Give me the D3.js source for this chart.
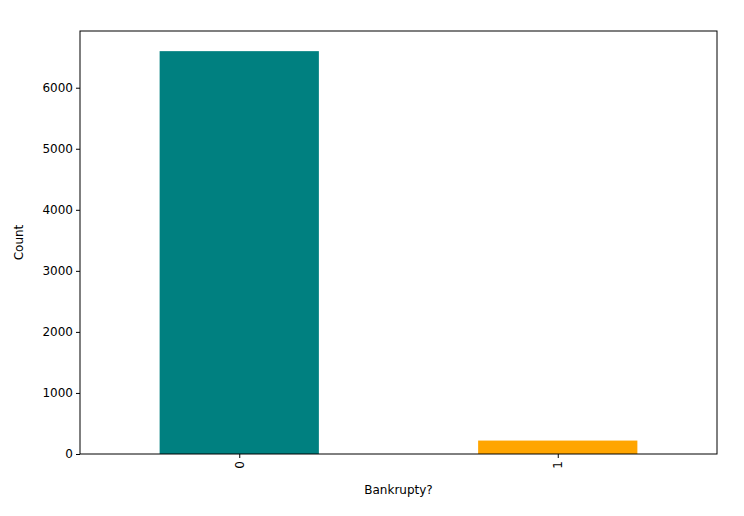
<!DOCTYPE html>
<html><head><meta charset="utf-8">
<script src="https://cdn.jsdelivr.net/npm/d3@7"></script>
<style>body{margin:0;background:#fff}text{font-family:"DejaVu Sans",sans-serif}</style>
</head><body><svg id="c" width="744" height="516"></svg>
<script>
const categories=["0","1"];
const counts=[6599,220];
const colors=["#008080","#FFA500"];
const yTicks=[0,1000,2000,3000,4000,5000,6000];
const L=80,R=717,T=31,B=454;
const svg=d3.select("#c");
const x=d3.scaleLinear().domain([-0.5,1.5]).range([L,R]);
const y=d3.scaleLinear().domain([0,6599*1.05]).range([B,T]);
svg.selectAll("rect.bar").data(counts).enter().append("rect")
 .attr("x",(d,i)=>x(i-0.25)).attr("width",x(0.25)-x(-0.25))
 .attr("y",d=>y(d)).attr("height",d=>B-y(d)).attr("fill",(d,i)=>colors[i]);
const ya=svg.append("g").attr("transform",`translate(${L},0)`).call(d3.axisLeft(y).tickValues(yTicks).tickSize(4).tickFormat(d3.format("d")));
const xa=svg.append("g").attr("transform",`translate(0,${B})`).call(d3.axisBottom(x).tickValues([0,1]).tickSize(4).tickFormat(i=>categories[i]));
[ya,xa].forEach(a=>{a.select(".domain").remove();a.selectAll("text").attr("font-size",12).attr("fill","#000");a.selectAll("line").attr("stroke","#000");});
xa.selectAll("text").attr("transform","rotate(-90)").attr("text-anchor","end").attr("x",-7).attr("y",0).attr("dy","0.35em");
svg.append("rect").attr("x",L).attr("y",T).attr("width",R-L).attr("height",B-T).attr("fill","none").attr("stroke","#000").attr("stroke-width",1);
svg.append("text").attr("x",(L+R)/2).attr("y",494).attr("text-anchor","middle").attr("font-size",12).text("Bankrupty?");
svg.append("text").attr("transform",`translate(23,${(T+B)/2}) rotate(-90)`).attr("text-anchor","middle").attr("font-size",12).text("Count");
</script></body></html>
